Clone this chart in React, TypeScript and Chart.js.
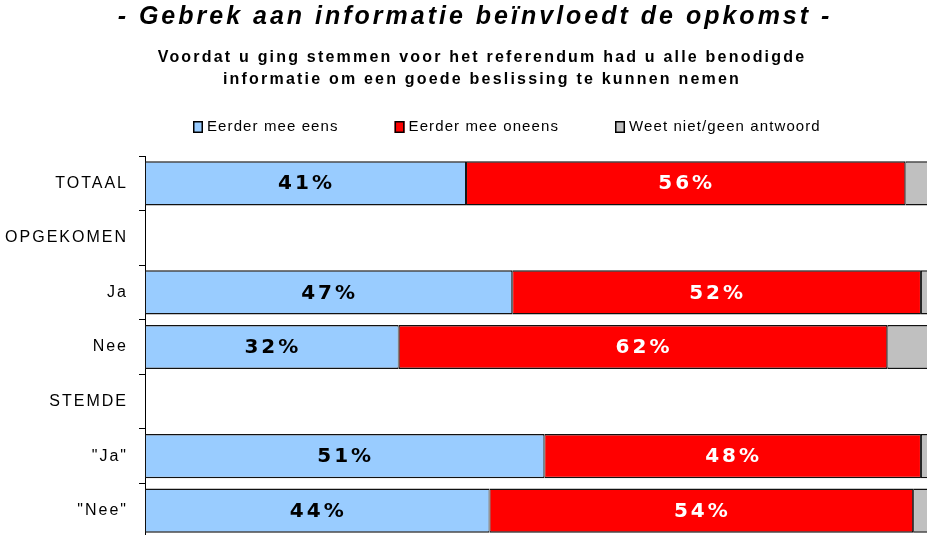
import React, { useEffect, useRef } from 'react';
import { Chart, registerables } from 'chart.js';

Chart.register(...registerables);

// ---- Data ----
const categories = ['TOTAAL', 'OPGEKOMEN', 'Ja', 'Nee', 'STEMDE', '"Ja"', '"Nee"'];
const seriesNames = ['Eerder mee eens', 'Eerder mee oneens', 'Weet niet/geen antwoord'];
const eens = [41.0, null, 46.9, 32.4, null, 51.0, 44.0];
const oneens = [56.1, null, 52.2, 62.4, null, 48.1, 54.1];
const weetNiet = [2.9, null, 0.9, 5.2, null, 0.9, 1.9];
const titleText = '- Gebrek aan informatie beïnvloedt de opkomst -';
const subtitleLines = [
  'Voordat u ging stemmen voor het referendum had u alle benodigde',
  'informatie om een goede beslissing te kunnen nemen',
];

// ---- Styles ----
const COLORS = ['#99CCFF', '#FF0000', '#C0C0C0'];
const LABEL_COLORS = ['#000000', '#FFFFFF', null];
const FONT = '"Liberation Sans", Arial, sans-serif';
const LEGEND_X = 193;
const LEGEND_Y = 127;
const LEGEND_GAP = 56;
const AXIS_LEFT = 145;
const TITLE_SHIFT = 11;
const SUBTITLE_SHIFT = 18;

const spacingPlugin = {
  id: 'letterSpacing',
  beforeDraw(chart: any) {
    const ctx = chart.ctx;
    try { ctx.letterSpacing = '2px'; } catch (e) {}
    const tb = chart.titleBlock;
    if (!tb) return;
    chart.boxes.forEach((box: any) => {
      if (box.__patched || box.constructor !== tb.constructor) return;
      const isTitle = box === tb;
      const orig = box.draw.bind(box);
      box.draw = (...args: any[]) => {
        ctx.save();
        try { ctx.letterSpacing = isTitle ? '3px' : '2.2px'; } catch (e) {}
        ctx.translate(isTitle ? TITLE_SHIFT : SUBTITLE_SHIFT, 0);
        orig(...args);
        ctx.restore();
      };
      box.__patched = true;
    });
  },
  afterDraw(chart: any) {
    try { chart.ctx.letterSpacing = '0px'; } catch (e) {}
  },
};

const barLabelPlugin = {
  id: 'barLabels',
  afterDatasetsDraw(chart: any) {
    const ctx = chart.ctx;
    ctx.save();
    ctx.font = 'bold 20px "DejaVu Sans", sans-serif';
    ctx.textAlign = 'center';
    ctx.textBaseline = 'middle';
    try { ctx.letterSpacing = '3px'; } catch (e) {}
    chart.data.datasets.forEach((ds: any, di: number) => {
      const color = LABEL_COLORS[di];
      if (!color) return;
      const meta = chart.getDatasetMeta(di);
      meta.data.forEach((el: any, i: number) => {
        const v = ds.data[i];
        if (v == null) return;
        ctx.fillStyle = color;
        const cx = (el.x + el.base) / 2;
        ctx.fillText(Math.round(v) + '%', cx + 1, el.y + 1);
      });
    });
    ctx.restore();
  },
};

const legendPlugin = {
  id: 'customLegend',
  afterDraw(chart: any) {
    const ctx = chart.ctx;
    ctx.save();
    ctx.font = '15px ' + FONT;
    try { ctx.letterSpacing = '1.1px'; } catch (e) {}
    ctx.textBaseline = 'middle';
    ctx.textAlign = 'left';
    let x = LEGEND_X;
    const y = LEGEND_Y;
    chart.data.datasets.forEach((ds: any) => {
      ctx.fillStyle = ds.backgroundColor;
      ctx.fillRect(x, y - 6, 10, 12);
      ctx.strokeStyle = '#000';
      ctx.lineWidth = 1.5;
      ctx.strokeRect(x + 0.75, y - 5.25, 8.5, 10.5);
      ctx.fillStyle = '#000';
      ctx.fillText(ds.label, x + 14, y);
      x += 14 + ctx.measureText(ds.label).width + LEGEND_GAP;
    });
    ctx.restore();
  },
};

export default function App() {
  const ref = useRef<HTMLCanvasElement | null>(null);

  useEffect(() => {
    if (!ref.current) return;
    const datasets = [eens, oneens, weetNiet].map((d, i) => ({
      label: seriesNames[i],
      data: d,
      backgroundColor: COLORS[i],
      borderColor: '#111111',
      borderWidth: { top: 1.5, bottom: 1.5, left: 1, right: 1 },
      borderSkipped: false,
      barPercentage: 0.81,
      categoryPercentage: 1,
    }));
    const chart = new Chart(ref.current, {
      type: 'bar',
      data: { labels: categories, datasets },
      options: {
        indexAxis: 'y',
        responsive: false,
        animation: false,
        layout: { padding: { left: 0, right: 0, top: 0, bottom: 0 } },
        scales: {
          x: { stacked: true, min: 0, max: 100, display: false },
          y: {
            stacked: true,
            offset: true,
            grid: {
              display: true,
              drawOnChartArea: false,
              drawTicks: true,
              tickLength: 6,
              color: '#000',
              offset: true,
            },
            border: { display: true, color: '#000', width: 1 },
            ticks: {
              color: '#000',
              font: { family: FONT, size: 16 },
              padding: 11,
            },
            afterFit(scale: any) {
              scale.width = AXIS_LEFT;
              scale.paddingTop = 0;
              scale.paddingBottom = 0;
            },
          },
        },
        plugins: {
          legend: { display: false },
          tooltip: { enabled: false },
          title: {
            display: true,
            text: titleText,
            color: '#000',
            font: { family: FONT, size: 25, style: 'italic', weight: 'bold', lineHeight: 1.2 },
            padding: { top: 2, bottom: 15 },
          },
          subtitle: {
            display: true,
            text: subtitleLines,
            color: '#000',
            font: { family: FONT, size: 16, weight: 'bold', lineHeight: 22 / 16 },
            padding: { top: 0, bottom: 65 },
          },
        },
      } as any,
      plugins: [spacingPlugin, barLabelPlugin, legendPlugin],
    });
    return () => chart.destroy();
  }, []);

  return (
    <div style={{ position: 'fixed', left: 0, top: 0, width: 927, height: 535, overflow: 'hidden', background: '#fff' }}>
      <canvas ref={ref} width={928} height={538} style={{ display: 'block' }} />
    </div>
  );
}
